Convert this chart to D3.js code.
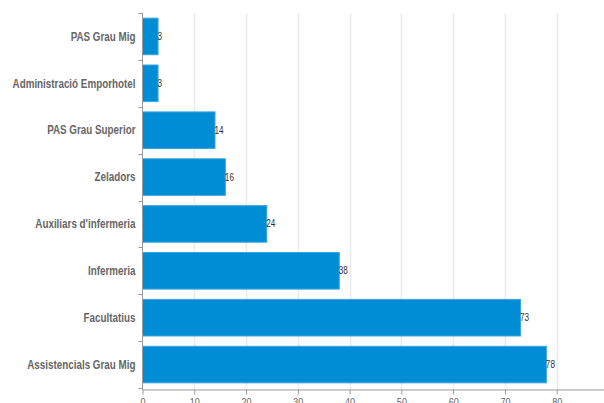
<!DOCTYPE html>
<html><head><meta charset="utf-8">
<script src="https://cdn.jsdelivr.net/npm/d3@7"></script>
<style>
html,body{margin:0;padding:0;background:#fff;overflow:hidden;}
svg{display:block;}
</style></head>
<body>
<svg id="chart" width="604" height="403"></svg>
<script>
const categories = ["PAS Grau Mig","Administració Emporhotel","PAS Grau Superior","Zeladors","Auxiliars d'infermeria","Infermeria","Facultatius","Assistencials Grau Mig"];
const values = [3,3,14,16,24,38,73,78];
const xTicks = [0,10,20,30,40,50,60,70,80,90];

(function(){
const svg = d3.select("#chart");
const mLeft = 142.5, mTop = 13, axisY = 389.5;
const x = d3.scaleLinear().domain([0,90]).range([mLeft, 608.5]);
const y = d3.scaleBand().domain(categories).range([mTop, 388]).paddingInner(0.22).paddingOuter(0.11);

const font = "'Liberation Sans',Arial,sans-serif";
const sx = 0.82; // narrow look

// gridlines
svg.append("g").selectAll("line").data(xTicks.filter(d=>d>0)).join("line")
  .attr("x1",d=>Math.round(x(d))+0.5).attr("x2",d=>Math.round(x(d))+0.5)
  .attr("y1",mTop).attr("y2",axisY)
  .attr("stroke","#ebebeb").attr("stroke-width",1.5);

// bars
svg.append("g").selectAll("rect").data(categories).join("rect")
  .attr("x",x(0)).attr("y",d=>y(d))
  .attr("width",(d,i)=>x(values[i])-x(0)).attr("height",y.bandwidth())
  .attr("fill","#018dd5").attr("stroke","#3ba5df").attr("stroke-width",1);

// value labels
svg.append("g").selectAll("text").data(categories).join("text")
  .attr("transform",(d,i)=>`translate(${x(values[i])-0.5},${y(d)+y.bandwidth()/2}) scale(${sx},1)`)
  .attr("dy","0.35em")
  .attr("font-family",font).attr("font-size",10).attr("fill","#333")
  .text((d,i)=>values[i]);

// y axis
const yAxis = svg.append("g");
yAxis.append("line").attr("x1",mLeft).attr("x2",mLeft).attr("y1",mTop).attr("y2",axisY)
  .attr("stroke","#999").attr("stroke-width",1);
const bounds = categories.map(c=>y(c)-y.step()*y.paddingInner()/2);
bounds.push(388);
bounds[0]=mTop;
yAxis.selectAll("line.t").data(bounds).join("line").attr("class","t")
  .attr("x1",mLeft-4).attr("x2",mLeft).attr("y1",d=>Math.round(d)+0.5).attr("y2",d=>Math.round(d)+0.5)
  .attr("stroke","#999");
yAxis.selectAll("text").data(categories).join("text")
  .attr("transform",d=>`translate(135.5,${y(d)+y.bandwidth()/2}) scale(${sx},1)`)
  .attr("dy","0.35em")
  .attr("text-anchor","end").attr("font-family",font).attr("font-weight","bold")
  .attr("font-size",12).attr("fill","#666").text(d=>d);

// x axis
const xAxis = svg.append("g").attr("transform",`translate(0,${axisY})`)
  .call(d3.axisBottom(x).tickValues(xTicks).tickSize(5).tickSizeOuter(0).tickPadding(4));
xAxis.select(".domain").attr("stroke","#999").attr("d",`M${mLeft},0.5H620`);
xAxis.selectAll(".tick line").attr("stroke","#999");
xAxis.selectAll(".tick text").attr("font-family",font).attr("font-size",11).attr("fill","#666")
  .attr("transform",`scale(${sx},1)`).attr("x",0);
})();
</script>
</body></html>
